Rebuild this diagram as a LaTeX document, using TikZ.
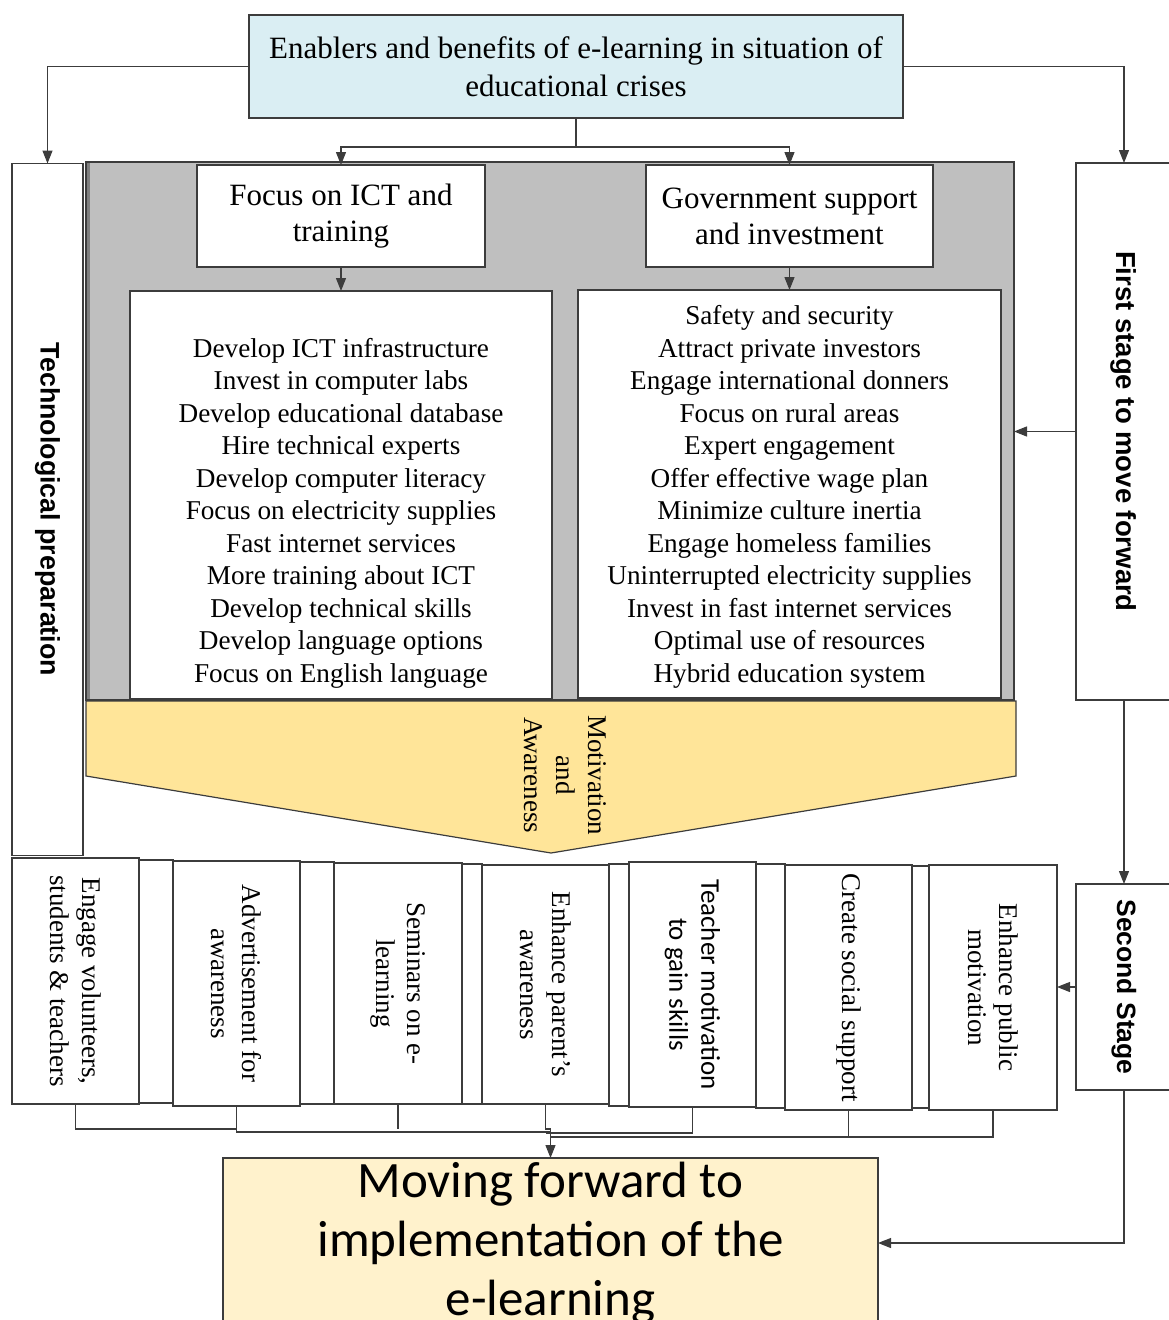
\documentclass[tikz,border=0pt]{standalone}
\usepackage{fontspec}
\setmainfont{Liberation Serif}
\setsansfont{Liberation Sans}
\newfontfamily\calibfont{Carlito}
\usetikzlibrary{arrows.meta}
\definecolor{lc}{HTML}{3C3C3C}
\definecolor{topfill}{HTML}{DAEEF3}
\definecolor{panelfill}{HTML}{BFBFBF}
\definecolor{panelstrip}{HTML}{7F7F7F}
\definecolor{funnelfill}{HTML}{FFE599}
\definecolor{movefill}{HTML}{FFF2CC}
\tikzset{
  ln/.style={draw=lc, line width=1.2pt},
  arr/.style={ln, -{Triangle[length=13pt,width=10pt]}},
  box/.style={rectangle, draw=lc, line width=1.2pt, fill=white, inner sep=0pt, outer sep=0pt},
  headtxt/.style={align=center, font=\fontsize{31}{38}\selectfont},
  listtxt/.style={align=center, font=\fontsize{27.2}{32.5}\selectfont},
  vtxt/.style={rotate=-90, align=center, font=\fontsize{27}{31.5}\selectfont},
  vsans/.style={rotate=-90, align=center, font=\calibfont\fontsize{27}{32}\selectfont},
  vbold/.style={rotate=-90, font=\sffamily\bfseries\fontsize{26.8}{30}\selectfont},
}
\begin{document}
\begin{tikzpicture}[x=1pt,y=-1pt]
\useasboundingbox (0,0) rectangle (1168,1320);

% grey panel holding the two pillars
\node[box, fill=panelfill, minimum width=928, minimum height=538] (panel) at (550,431) {};
\fill[panelstrip] (86.6,162.6) rectangle (90,699.4);

% title
\node[box, fill=topfill, minimum width=654, minimum height=103] (top) at (576,66.5) {};
\node[headtxt] (toptxt) at (top) {Enablers and benefits of e-learning in situation of\\educational crises};

% side stages
\node[box, minimum width=71, minimum height=692] (tech) at (47.5,509.5) {};
\node[vbold] (techtxt) at (tech) {Technological preparation};
\node[box, minimum width=96, minimum height=537] (first) at (1124,431.5) {};
\node[vbold, font=\sffamily\bfseries\fontsize{27.5}{30}\selectfont] (firsttxt) at (first) {First stage to move forward};
\node[box, minimum width=96, minimum height=206] (second) at (1124,987) {};
\node[vbold, font=\sffamily\bfseries\fontsize{26.5}{30}\selectfont] (secondtxt) at (second) {Second Stage};

% pillar heads
\node[box, minimum width=288, minimum height=102] (ict) at (341,216) {};
\node[headtxt, font=\fontsize{31}{36}\selectfont] (icttxt) at (ict) {Focus on ICT and\\training};
\node[box, minimum width=287, minimum height=102] (gov) at (789.5,216) {};
\node[headtxt, font=\fontsize{31}{36}\selectfont] (govtxt) at (gov) {Government support\\and investment};

% pillar lists
\node[box, minimum width=422, minimum height=408] (listL) at (341,495) {};
\node[listtxt] (listLtxt) at (341,513) {Develop ICT infrastructure\\Invest in computer labs\\Develop educational database\\Hire technical experts\\Develop computer literacy\\Focus on electricity supplies\\Fast internet services\\More training about ICT\\Develop technical skills\\Develop language options\\Focus on English language};
\node[box, minimum width=423, minimum height=408] (listR) at (789.5,494) {};
\node[listtxt] (listRtxt) at (789.5,497) {Safety and security\\Attract private investors\\Engage international donners\\Focus on rural areas\\Expert engagement\\Offer effective wage plan\\Minimize culture inertia\\Engage homeless families\\Uninterrupted electricity supplies\\Invest in fast internet services\\Optimal use of resources\\Hybrid education system};

% funnel
\draw[ln, fill=funnelfill] (86,701) -- (1016,701) -- (1016,776) -- (551,853) -- (86,776) -- cycle;
\node[vtxt, font=\fontsize{27}{32}\selectfont] (funneltxt) at (565,775) {Motivation\\and\\Awareness};

% strips behind the action boxes
\draw[ln, fill=white] (139,860) rectangle (173,1103);
\draw[ln, fill=white] (300,862) rectangle (334,1104);
\draw[ln, fill=white] (462,864) rectangle (482,1104);
\draw[ln, fill=white] (609,864) rectangle (629,1106);
\draw[ln, fill=white] (756,864) rectangle (785,1108);
\draw[ln, fill=white] (912,866) rectangle (929,1108);

% action boxes
\node[box, minimum width=127, minimum height=246] (b1) at (75.5,981) {};
\node[vtxt] (b1txt) at (b1) {Engage volunteers,\\students \& teachers};
\node[box, minimum width=127, minimum height=245] (b2) at (236.5,983.5) {};
\node[vtxt] (b2txt) at (b2) {Advertisement for\\awareness};
\node[box, minimum width=128, minimum height=241] (b3) at (398,983.5) {};
\node[vtxt] (b3txt) at (b3) {Seminars on e-\\learning};
\node[box, minimum width=127, minimum height=239] (b4) at (545.5,984.5) {};
\node[vtxt] (b4txt) at (b4) {Enhance parent’s\\awareness};
\node[box, minimum width=127, minimum height=245] (b5) at (692.5,984.5) {};
\node[vsans] (b5txt) at (b5) {Teacher motivation\\to gain skills};
\node[box, minimum width=127, minimum height=245] (b6) at (848.5,987.5) {};
\node[vtxt] (b6txt) at (b6) {Create social support};
\node[box, minimum width=128, minimum height=245] (b7) at (993,987.5) {};
\node[vtxt] (b7txt) at (b7) {Enhance public\\motivation};

% goal
\node[box, fill=movefill, minimum width=655, minimum height=170] (moving) at (550.5,1243) {};
\node[align=center, font=\calibfont\fontsize{51}{59}\selectfont] (movingtxt) at (550.5,1243) {Moving forward to\\implementation of the\\e-learning};

% connectors from the title
\draw[arr] (top.west) -| (tech.north);
\draw[arr] (top.east) -| (first.north);
\draw[ln] (top.south) -- ++(0,29) coordinate (split);
\draw[arr] (split) -| (ict.north);
\draw[arr] (split) -| (gov.north);
\draw[arr] (ict.south) -- (listL.north);
\draw[arr] (gov.south) -- (listR.north);

% stage connectors
\draw[arr] (first.west) -- (panel.east |- first.west);
\draw[arr] (first.south) -- (second.north);
\draw[arr] (second.west) -- (b7.east |- second.west);
\draw[arr] (second.south) |- (moving.east);

% collecting lines under the action boxes
\coordinate (bus) at (moving.north |- 0,1129);
\draw[ln] (b1.south) |- (b2.south |- 0,1129);
\draw[ln] (b2.south) |- (bus |- 0,1132);
\draw[ln] (b3.south) -- (b3.south |- 0,1129);
\draw[ln] (b4.south) |- (bus);
\draw[ln] (b5.south) |- (b4.south |- 0,1133);
\draw[ln] (b6.south) |- (bus |- 0,1137);
\draw[ln] (b7.south) |- (b6.south |- 0,1137);
\draw[arr] (bus) -- (moving.north);
\end{tikzpicture}
\end{document}
